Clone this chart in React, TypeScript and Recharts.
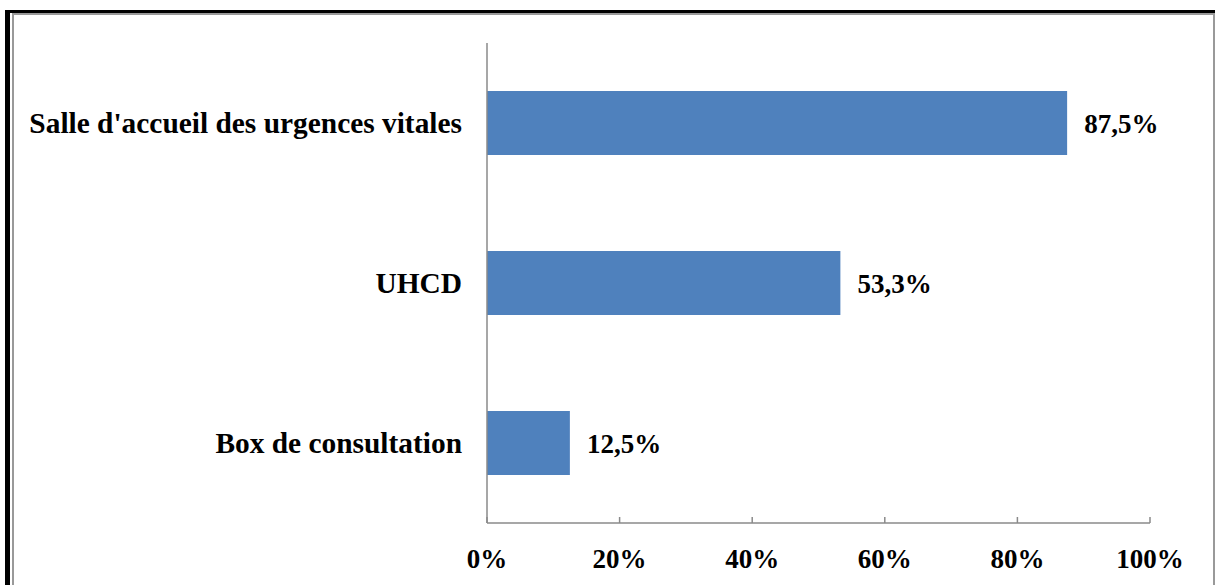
import { Bar, BarChart, LabelList, XAxis, YAxis } from "recharts"

const categories = ["Salle d'accueil des urgences vitales", "UHCD", "Box de consultation"]
const percentages = [87.5, 53.3, 12.5]
const xTicks = [0, 20, 40, 60, 80, 100]

const data = categories.map((name, i) => ({ name, value: percentages[i] }))

const FONT = "'Liberation Serif', 'Times New Roman', serif"
const AXIS_GREY = "#8a8a8a"
const BAR_BLUE = "#4F81BD"

// x tick: small mark pointing up into the plot, label below
function XTick(props: any) {
    const { x, y, payload } = props
    return (
        <g>
            <line x1={x} y1={y} x2={x} y2={y - 6} stroke={AXIS_GREY} strokeWidth={1.5} />
            <text x={x} y={y + 45} textAnchor="middle" fontFamily={FONT} fontSize={27} fontWeight="bold" fill="#000">
                {payload.value}%
            </text>
        </g>
    )
}

const fmt = (v: any) => `${Number(v).toFixed(1).replace(".", ",")}%`

export default function App() {
    return (
        <div style={{ position: "absolute", left: 0, top: 0, width: 1215, height: 585, background: "#fff" }}>
            {/* frame */}
            <div style={{ position: "absolute", left: 5, top: 10, width: 5, height: 575, background: "#000" }} />
            <div style={{ position: "absolute", left: 5, top: 10, width: 1210, height: 3, background: "#000" }} />
            <div style={{ position: "absolute", left: 12, top: 13, width: 1202, height: 1.5, background: "#999" }} />
            <div style={{ position: "absolute", left: 12, top: 13, width: 1.5, height: 572, background: "#999" }} />
            <div style={{ position: "absolute", left: 1213, top: 13, width: 1.5, height: 572, background: "#999" }} />
            <div style={{ position: "absolute", left: 0, top: 0 }}>
                <BarChart
                    width={1215}
                    height={585}
                    data={data}
                    layout="vertical"
                    margin={{ top: 43, right: 65, bottom: 0, left: 0 }}
                    barCategoryGap="30%"
                >
                    <XAxis
                        type="number"
                        domain={[0, 100]}
                        ticks={xTicks}
                        height={62}
                        tickSize={0}
                        tickMargin={0}
                        tickLine={false}
                        tick={<XTick />}
                        axisLine={{ stroke: AXIS_GREY, strokeWidth: 1.5 }}
                        interval={0}
                    />
                    <YAxis
                        type="category"
                        dataKey="name"
                        width={487}
                        tickLine={false}
                        tickSize={0}
                        tickMargin={25}
                        axisLine={{ stroke: AXIS_GREY, strokeWidth: 1.5 }}
                        tick={{ fill: "#000", fontSize: 29.4, fontWeight: "bold", fontFamily: FONT }}
                    />
                    <Bar dataKey="value" fill={BAR_BLUE} isAnimationActive={false}>
                        <LabelList
                            dataKey="value"
                            position="right"
                            offset={17}
                            formatter={fmt}
                            fill="#000"
                            fontSize={27}
                            fontWeight="bold"
                            fontFamily={FONT}
                        />
                    </Bar>
                </BarChart>
            </div>
        </div>
    )
}
